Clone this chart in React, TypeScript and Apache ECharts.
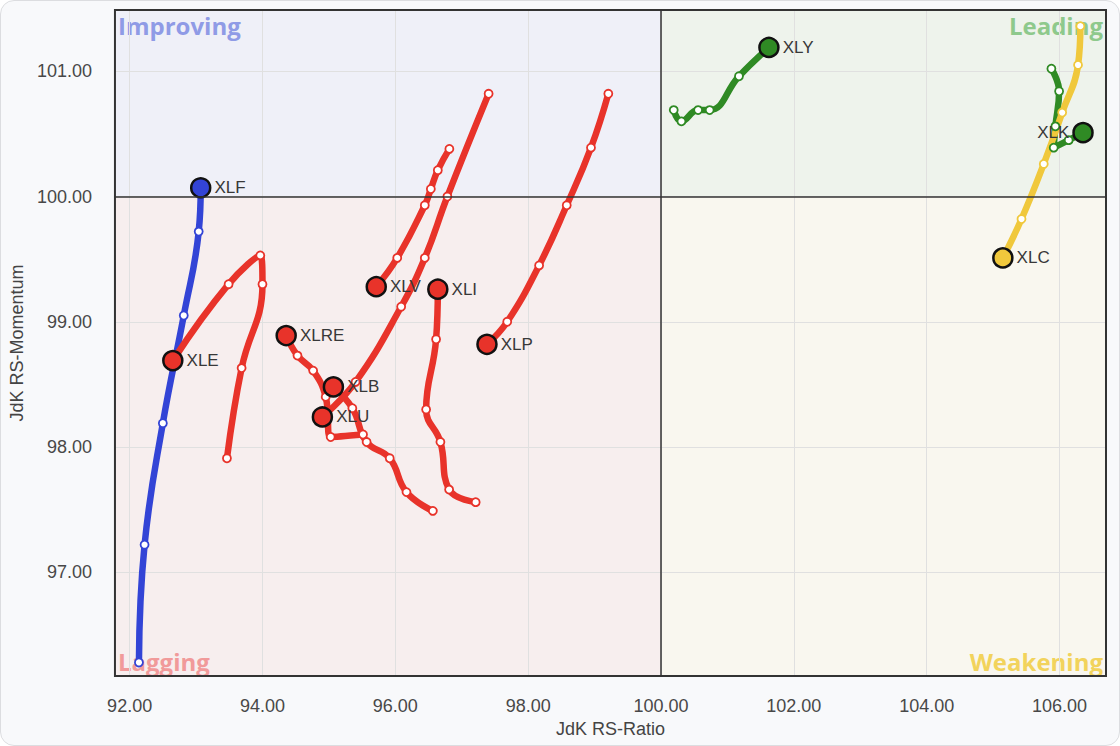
import React, { useEffect, useRef } from "react";
import * as echarts from "echarts";

// Axis extents (JdK RS-Ratio / JdK RS-Momentum)
const X_MIN = 91.779;
const X_MAX = 106.7;
const Y_MIN = 96.172;
const Y_MAX = 101.489;
const CENTER = 100;

// Tails: oldest point first, head (latest) last
const XLF = [[92.14, 96.28], [92.225, 97.22], [92.5, 98.19], [92.815, 99.05], [93.04, 99.72], [93.07, 100.07]];
const XLE = [[93.465, 97.91], [93.686, 98.63], [94.0, 99.3], [93.967, 99.53], [93.49, 99.3], [92.65, 98.69]];
const XLRE = [[95.514, 98.1], [95.027, 98.08], [94.952, 98.4], [94.763, 98.61], [94.527, 98.73], [94.357, 98.89]];
const XLB = [[96.565, 97.49], [96.168, 97.64], [95.916, 97.91], [95.568, 98.04], [95.353, 98.31], [95.068, 98.48]];
const XLU = [[97.405, 100.82], [96.784, 100.0], [96.444, 99.51], [96.088, 99.12], [95.402, 98.52], [94.902, 98.24]];
const XLV = [[96.814, 100.38], [96.64, 100.21], [96.535, 100.06], [96.444, 99.93], [96.029, 99.51], [95.713, 99.28]];
const XLI = [[97.21, 97.56], [96.81, 97.66], [96.679, 98.04], [96.464, 98.3], [96.614, 98.86], [96.64, 99.26]];
const XLP = [[99.207, 100.82], [98.946, 100.39], [98.581, 99.93], [98.165, 99.45], [97.685, 99.0], [97.38, 98.82]];
const XLY = [[100.192, 100.69], [100.308, 100.6], [100.559, 100.69], [100.733, 100.69], [101.174, 100.96], [101.625, 101.19]];
const XLK = [[105.878, 101.02], [105.994, 100.84], [105.938, 100.56], [105.913, 100.39], [106.138, 100.45], [106.354, 100.51]];
const XLC = [[106.314, 101.36], [106.279, 101.05], [106.04, 100.67], [105.763, 100.26], [105.428, 99.82], [105.147, 99.51]];

const TICKERS: [string, number[][]][] = [
  ["XLF", XLF],
  ["XLE", XLE],
  ["XLRE", XLRE],
  ["XLB", XLB],
  ["XLU", XLU],
  ["XLV", XLV],
  ["XLI", XLI],
  ["XLP", XLP],
  ["XLY", XLY],
  ["XLK", XLK],
  ["XLC", XLC],
];

const QUADRANTS = ["Improving", "Leading", "Lagging", "Weakening"];

const COLORS = {
  improving: "#3344d6",
  leading: "#2f8a24",
  lagging: "#e8332a",
  weakening: "#f0c83c",
};

const FONT = 'Arial, "Liberation Sans", sans-serif';

function quadColor(p: number[]) {
  const [x, y] = p;
  if (x < CENTER && y >= CENTER) return COLORS.improving;
  if (x >= CENTER && y >= CENTER) return COLORS.leading;
  if (x < CENTER && y < CENTER) return COLORS.lagging;
  return COLORS.weakening;
}

export default function App() {
  const ref = useRef<HTMLDivElement>(null);

  useEffect(() => {
    document.body.style.margin = "0";
    if (!ref.current) return;
    const chart = echarts.init(ref.current, undefined, { renderer: "svg" });

    const tailSeries = TICKERS.map(([name, pts]) => {
      const head = pts[pts.length - 1];
      const color = quadColor(head);
      const data = pts.map((p, i) => {
        if (i < pts.length - 1) return { value: p };
        return {
          value: p,
          symbolSize: 19,
          itemStyle: { color, borderColor: "#111", borderWidth: 2.5 },
          label: {
            show: true,
            formatter: name,
            position: name === "XLK" ? "left" : "right",
            distance: 3,
            color: "#383838",
            fontSize: 17,
            fontFamily: FONT,
          },
        };
      });
      return {
        type: "line",
        name,
        z: 3,
        smooth: 0.45,
        clip: false,
        symbol: "circle",
        symbolSize: 8,
        showSymbol: true,
        showAllSymbol: true,
        lineStyle: { color, width: 6.5, cap: "round", join: "round" },
        itemStyle: { color: "#ffffff", borderColor: color, borderWidth: 1.8 },
        label: { show: false },
        emphasis: { disabled: true },
        data,
      };
    });

    const qLabel = (color: string, position: string) => ({
      show: true,
      position,
      distance: 3,
      color,
      fontSize: 24,
      fontWeight: "bold",
      fontFamily: '"Open Sans", "Noto Sans", sans-serif',
    });

    const background = {
      type: "line",
      name: "quadrants",
      z: 1,
      data: [],
      silent: true,
      markArea: {
        silent: true,
        data: [
          [
            { name: QUADRANTS[0], xAxis: X_MIN, yAxis: CENTER, itemStyle: { color: "#eff0f8" }, label: qLabel("#8f9be6", "insideTopLeft") },
            { xAxis: CENTER, yAxis: Y_MAX },
          ],
          [
            { name: QUADRANTS[1], xAxis: CENTER, yAxis: CENTER, itemStyle: { color: "#eef3ec" }, label: qLabel("#8ec98c", "insideTopRight") },
            { xAxis: X_MAX, yAxis: Y_MAX },
          ],
          [
            { name: QUADRANTS[2], xAxis: X_MIN, yAxis: Y_MIN, itemStyle: { color: "#f7eeee" }, label: qLabel("#f19a9a", "insideBottomLeft") },
            { xAxis: CENTER, yAxis: CENTER },
          ],
          [
            { name: QUADRANTS[3], xAxis: CENTER, yAxis: Y_MIN, itemStyle: { color: "#f9f7ef" }, label: qLabel("#f2d35c", "insideBottomRight") },
            { xAxis: X_MAX, yAxis: CENTER },
          ],
        ],
      },
      markLine: {
        silent: true,
        symbol: "none",
        label: { show: false },
        lineStyle: { color: "#333", width: 1.5, type: "solid" },
        data: [{ xAxis: CENTER }, { yAxis: CENTER }],
      },
    };

    const fmt = (step: number) => (v: number) =>
      Math.abs(v / step - Math.round(v / step)) < 1e-6 ? v.toFixed(2) : "";

    chart.setOption({
      animation: false,
      backgroundColor: "transparent",
      textStyle: { fontFamily: FONT },
      grid: {
        show: true,
        z: 2,
        left: 112,
        top: 10,
        width: 994,
        height: 666,
        borderColor: "#333",
        borderWidth: 2,
        backgroundColor: "transparent",
      },
      xAxis: {
        type: "value",
        z: 1.5,
        min: X_MIN,
        max: X_MAX,
        splitNumber: 7,
        name: "JdK RS-Ratio",
        nameLocation: "middle",
        nameGap: 42,
        nameTextStyle: { color: "#444", fontSize: 18, fontFamily: FONT },
        axisLine: { show: false },
        axisTick: { show: false },
        axisLabel: {
          color: "#484848",
          fontSize: 18,
          margin: 21,
          showMinLabel: false,
          showMaxLabel: false,
          formatter: fmt(2),
        },
        splitLine: { show: true, lineStyle: { color: "#e0e0e0", width: 1 } },
      },
      yAxis: {
        type: "value",
        z: 1.5,
        min: Y_MIN,
        max: Y_MAX,
        splitNumber: 5,
        name: "JdK RS-Momentum",
        nameLocation: "middle",
        nameGap: 80,
        nameTextStyle: { color: "#444", fontSize: 18, fontFamily: FONT },
        axisLine: { show: false },
        axisTick: { show: false },
        axisLabel: {
          color: "#484848",
          fontSize: 18,
          margin: 23,
          showMinLabel: false,
          showMaxLabel: false,
          formatter: fmt(1),
        },
        splitLine: { show: true, lineStyle: { color: "#e0e0e0", width: 1 } },
      },
      series: [background, ...tailSeries],
    });

    return () => chart.dispose();
  }, []);

  return (
    <div
      style={{
        position: "relative",
        width: 1120,
        height: 746,
        boxSizing: "border-box",
        background: "#f8f9fb",
        border: "1px solid #dcdde0",
        borderRadius: 14,
        overflow: "hidden",
      }}
    >
      <div ref={ref} style={{ position: "absolute", left: -1, top: -1, width: 1120, height: 746 }} />
    </div>
  );
}
